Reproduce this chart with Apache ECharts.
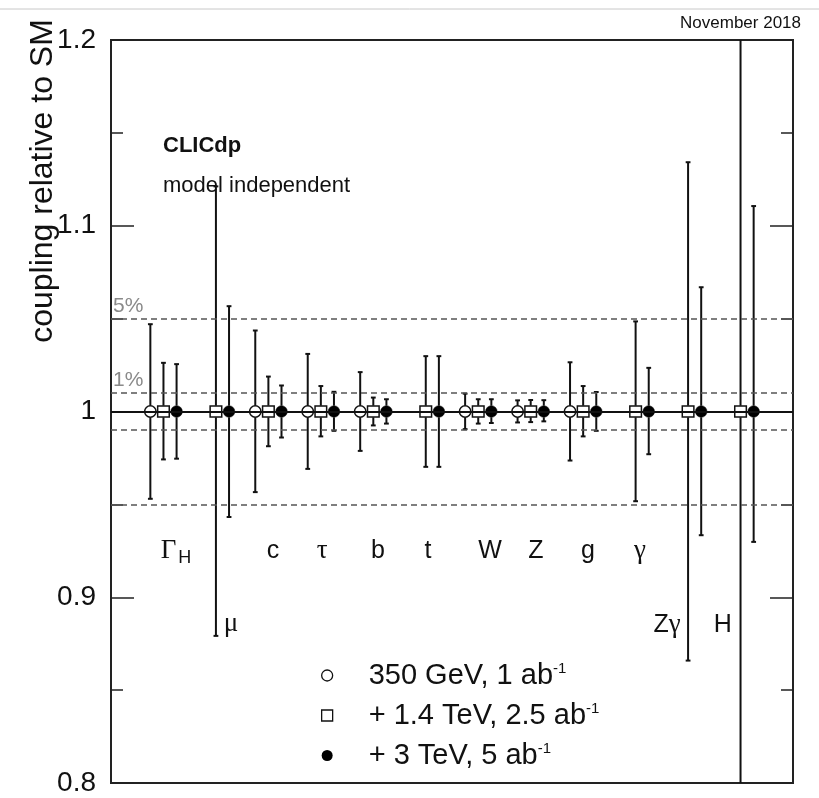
<!DOCTYPE html>
<html>
<head>
<meta charset="utf-8">
<script src="https://cdn.jsdelivr.net/npm/echarts@6/dist/echarts.min.js"></script>
<style>html,body{margin:0;padding:0;background:#fff}#c{width:819px;height:798px}</style>
</head>
<body>
<div id="c"></div>
<script>
// ---------------- data ----------------
const categories = ['Γ_H', 'μ', 'c', 'τ', 'b', 't', 'W', 'Z', 'g', 'γ', 'Zγ', 'H'];
const central    = [1, 1, 1, 1, 1, 1, 1, 1, 1, 1, 1, 1];
const seriesNames = ['350 GeV, 1 ab^-1', '+ 1.4 TeV, 2.5 ab^-1', '+ 3 TeV, 5 ab^-1'];
// uncertainties (relative), null = not measured at this stage
const up350    = [0.047, null, 0.0436, 0.031, 0.0212, null, 0.0096, 0.006, 0.0265, null, null, null];
const down350  = [0.047, null, 0.0434, 0.0309, 0.0212, null, 0.0095, 0.0059, 0.0264, null, null, null];
const up1400   = [0.0262, 0.1212, 0.0188, 0.0137, 0.0075, 0.0298, 0.0066, 0.0062, 0.0137, 0.0485, 0.1342, 0.67];
const down1400 = [0.0258, 0.1208, 0.0187, 0.0134, 0.0075, 0.0298, 0.0065, 0.0057, 0.0134, 0.0483, 0.1341, 0.29];
const up3000   = [0.0255, 0.0567, 0.014, 0.0106, 0.0066, 0.0298, 0.0066, 0.0061, 0.0105, 0.0235, 0.0669, 0.1106];
const down3000 = [0.0254, 0.0568, 0.014, 0.0104, 0.0065, 0.0298, 0.0062, 0.0053, 0.0104, 0.023, 0.0666, 0.0702];
const refLines = [1.05, 1.01, 0.99, 0.95];
const refLabels = ['5%', '1%', '', ''];
const yTickValues = [0.8, 0.9, 1.0, 1.1, 1.2];
const yTickLabels = ['0.8', '0.9', '1', '1.1', '1.2'];

// ---------------- layout / style ----------------
const SANS = '"Liberation Sans", Arial, Helvetica, sans-serif';
const SERIF = '"Liberation Serif", "DejaVu Serif", serif';
const INK = '#111';
// where the category names sit, in axis units [x, y]
const labelSpots = [[0.239, 0.9248], [1.287, 0.8855], [2.088, 0.9248], [3.023, 0.9248], [4.09, 0.9248],
  [5.043, 0.9248], [6.225, 0.9248], [7.1, 0.9248], [8.093, 0.9248], [9.084, 0.9248], [9.598, 0.8852], [10.66, 0.8852]];
const stageOffsets = [-0.25, 0, 0.25];
const stageShapes = ['openCircle', 'openSquare', 'dot'];

function richCat(name) {
  return name.replace(/_(\w)/g, '{s|$1}').replace(/([\u0391-\u03A9\u03B1-\u03C9])/g, '{g|$1}');
}
function richLegend(name) {
  return name.replace(/\^(-?\d+)/g, '{sup|$1}');
}

function makeRenderer(offset, shape) {
  return function (params, api) {
    const idx = api.value(0), c = api.value(1), up = api.value(2), dn = api.value(3);
    const x = idx + offset;
    const p = api.coord([x, c]);
    const pt = api.coord([x, c + up]);
    const pb = api.coord([x, c - dn]);
    const cs = params.coordSys;
    const yTop = cs.y, yBot = cs.y + cs.height;
    const r = 5.8, capW = 2.4;
    const st = { stroke: INK, lineWidth: 2 };
    const kids = [];
    const t = Math.max(pt[1], yTop), b = Math.min(pb[1], yBot);
    if (p[1] - r > t) kids.push({ type: 'line', shape: { x1: p[0], y1: t, x2: p[0], y2: p[1] - r }, style: st });
    if (p[1] + r < b) kids.push({ type: 'line', shape: { x1: p[0], y1: p[1] + r, x2: p[0], y2: b }, style: st });
    if (pt[1] >= yTop) kids.push({ type: 'line', shape: { x1: p[0] - capW, y1: pt[1], x2: p[0] + capW, y2: pt[1] }, style: st });
    if (pb[1] <= yBot) kids.push({ type: 'line', shape: { x1: p[0] - capW, y1: pb[1], x2: p[0] + capW, y2: pb[1] }, style: st });
    if (shape === 'openCircle') {
      kids.push({ type: 'circle', shape: { cx: p[0], cy: p[1], r: 5.7 }, style: { fill: 'none', stroke: INK, lineWidth: 1.5 } });
    } else if (shape === 'openSquare') {
      kids.push({ type: 'rect', shape: { x: p[0] - 5.8, y: p[1] - 5.5, width: 11.6, height: 11 }, style: { fill: 'none', stroke: INK, lineWidth: 1.5 } });
    } else {
      kids.push({ type: 'circle', shape: { cx: p[0], cy: p[1], r: 5.8 }, style: { fill: '#000', stroke: '#000', lineWidth: 0.5 } });
    }
    return { type: 'group', children: kids };
  };
}

const ups = [up350, up1400, up3000];
const downs = [down350, down1400, down3000];

const stageSeries = seriesNames.map((name, s) => ({
  type: 'custom',
  name: name,
  z: 3,
  renderItem: makeRenderer(stageOffsets[s], stageShapes[s]),
  data: categories.map((_, i) => ups[s][i] == null ? null : [i, central[i], ups[s][i], downs[s][i]]).filter(Boolean),
  encode: { x: 0, y: 1 },
  silent: true
}));

const labelSeries = {
  type: 'custom',
  name: 'labels',
  z: 4,
  silent: true,
  data: categories.map((n, i) => [labelSpots[i][0], labelSpots[i][1], i]),
  encode: { x: 0, y: 1 },
  renderItem: function (params, api) {
    const i = api.value(2);
    const p = api.coord([api.value(0), api.value(1)]);
    return {
      type: 'text', x: p[0], y: p[1],
      style: {
        text: richCat(categories[i]),
        align: 'center', verticalAlign: 'middle',
        fill: INK, fontSize: 25, fontFamily: SANS, lineHeight: 32,
        rich: {
          g: { fontFamily: SERIF, fontSize: 27, lineHeight: 32, fill: INK },
          s: { fontFamily: SANS, fontSize: 18, lineHeight: 18, verticalAlign: 'bottom', fill: INK, padding: [0, 0, 0, 2] }
        }
      }
    };
  }
};

const lineData = refLines.map((v, k) => ({
  yAxis: v,
  lineStyle: { type: [6, 4], color: '#555', width: 1.6 },
  label: refLabels[k] ? { show: true, formatter: refLabels[k], position: 'insideStartTop', color: '#8a8a8a', fontSize: 21, fontFamily: SANS, distance: [2, 2] } : { show: false }
}));
lineData.push({ yAxis: central[0], lineStyle: { type: 'solid', color: INK, width: 2.2 }, label: { show: false } });

const refSeries = {
  type: 'line', name: 'ref', data: [], z: 1, silent: true,
  markLine: { symbol: ['none', 'none'], silent: true, animation: false, data: lineData }
};

const yAxisBase = {
  type: 'value', min: yTickValues[0], max: yTickValues[yTickValues.length - 1], interval: 0.1,
  axisLine: { show: false, onZero: false }, splitLine: { show: false },
  axisTick: { show: true, inside: true, length: 23, lineStyle: { color: '#222', width: 1.5 } },
  minorTick: { show: true, splitNumber: 2, length: 12, lineStyle: { color: '#222', width: 1.5 } }
};

const option = {
  animation: false,
  backgroundColor: '#fff',
  grid: { left: 111, top: 40, width: 682, height: 743, show: true, borderColor: '#222', borderWidth: 2, backgroundColor: 'transparent' },
  xAxis: { type: 'value', min: -1, max: categories.length, show: false, axisLine: { show: false, onZero: false }, splitLine: { show: false } },
  yAxis: [
    Object.assign({}, yAxisBase, {
      position: 'left',
      axisLabel: {
        fontSize: 28, color: INK, fontFamily: SANS, margin: 15,
        formatter: function (v) {
          const k = yTickValues.findIndex(t => Math.abs(t - v) < 1e-6);
          return k >= 0 ? yTickLabels[k] : '';
        }
      }
    }),
    Object.assign({}, yAxisBase, { position: 'right', axisLabel: { show: false } })
  ],
  legend: {
    orient: 'vertical', left: 316, top: 656, itemWidth: 11, itemHeight: 11, itemGap: 11,
    selectedMode: false,
    data: [
      { name: seriesNames[0], icon: 'circle', itemStyle: { color: '#fff', borderColor: INK, borderWidth: 1.3 } },
      { name: seriesNames[1], icon: 'rect', itemStyle: { color: '#fff', borderColor: INK, borderWidth: 1.3 } },
      { name: seriesNames[2], icon: 'circle', itemStyle: { color: '#000', borderColor: '#000', borderWidth: 0 } }
    ],
    formatter: richLegend,
    textStyle: {
      fontSize: 29, fontFamily: SANS, color: INK, lineHeight: 28, padding: [0, 0, 0, 31],
      rich: { sup: { fontSize: 15, lineHeight: 15, verticalAlign: 'top', fontFamily: SANS, color: INK } }
    }
  },
  graphic: [
    { type: 'line', shape: { x1: 0, y1: 9, x2: 819, y2: 9 }, style: { stroke: '#c8c8c8', lineWidth: 1 } },
    { type: 'text', x: 801, y: 23, style: { text: 'November 2018', align: 'right', verticalAlign: 'middle', fill: INK, font: '17px ' + SANS } },
    { type: 'text', x: 43, y: 181, rotation: Math.PI / 2, style: { text: 'coupling relative to SM', align: 'center', verticalAlign: 'middle', fill: INK, font: '32px ' + SANS } },
    { type: 'text', x: 163, y: 146, style: { text: 'CLICdp', align: 'left', verticalAlign: 'middle', fill: INK, font: 'bold 22px ' + SANS } },
    { type: 'text', x: 163, y: 186, style: { text: 'model independent', align: 'left', verticalAlign: 'middle', fill: INK, font: '22px ' + SANS } }
  ],
  series: [refSeries].concat(stageSeries, [labelSeries])
};

const chart = echarts.init(document.getElementById('c'), null, { renderer: 'canvas' });
chart.setOption(option);
</script>
</body>
</html>
